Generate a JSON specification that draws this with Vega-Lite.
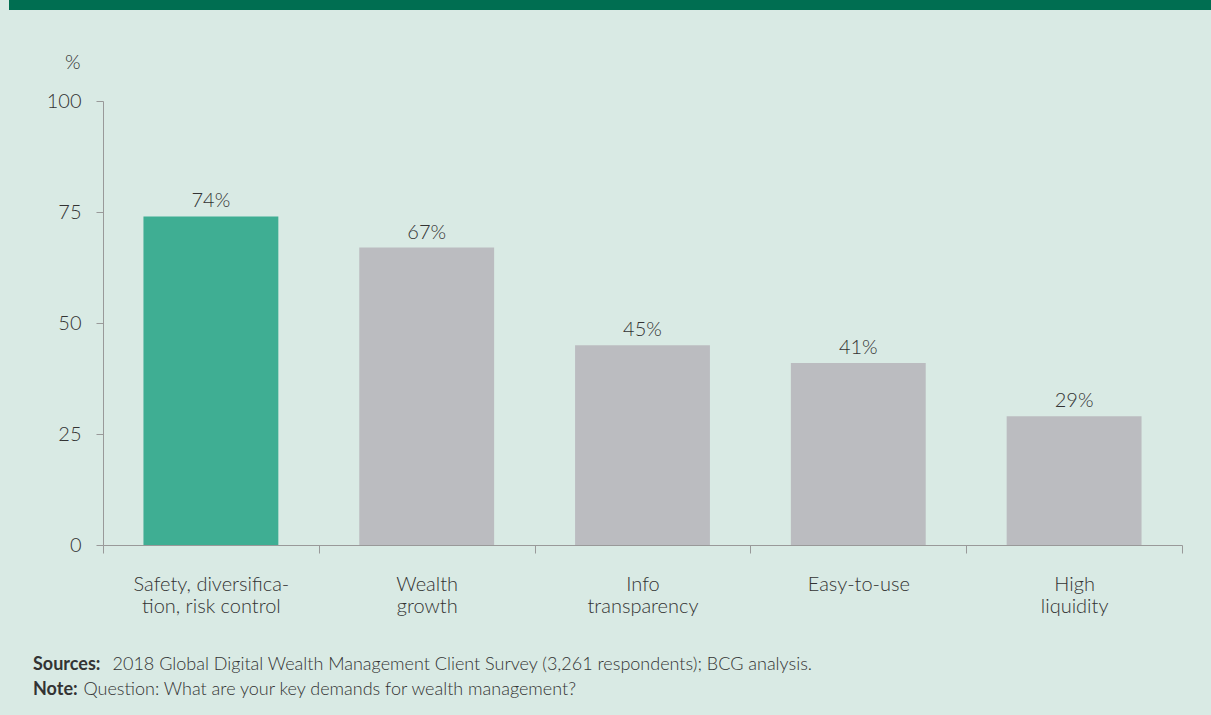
{
  "$schema": "https://vega.github.io/schema/vega-lite/v6.json",
  "width": 1079,
  "height": 444,
  "autosize": {"type": "none"},
  "padding": {"left": 103, "top": 101, "right": 29, "bottom": 170},
  "background": "#d9eae4",
  "config": {"view": {"stroke": null}, "font": "Lato"},
  "title": {
    "text": "Sources:",
    "subtitle": "Note:",
    "orient": "bottom",
    "anchor": "start",
    "frame": "group",
    "dx": -70,
    "offset": -42,
    "baseline": "top",
    "font": "Lato",
    "fontSize": 18,
    "fontWeight": "bold",
    "color": "#333333",
    "subtitleFont": "Lato",
    "subtitleFontSize": 18,
    "subtitleFontWeight": "bold",
    "subtitleColor": "#333333",
    "subtitlePadding": 7
  },
  "data": {
    "values": [
      {"demand": "Safety, diversifica-|tion, risk control", "share": 74, "label": "74%", "group": "top"},
      {"demand": "Wealth|growth", "share": 67, "label": "67%", "group": "other"},
      {"demand": "Info|transparency", "share": 45, "label": "45%", "group": "other"},
      {"demand": "Easy-to-use", "share": 41, "label": "41%", "group": "other"},
      {"demand": "High|liquidity", "share": 29, "label": "29%", "group": "other"}
    ]
  },
  "resolve": {"scale": {"x": "independent"}, "axis": {"x": "independent", "y": "independent"}},
  "layer": [
    {
      "mark": {"type": "rect", "color": "#006e51", "clip": false},
      "encoding": {
        "x": {"datum": -0.0871, "type": "quantitative", "scale": {"domain": [0, 1], "nice": false, "zero": false},
          "axis": {"orient": "top", "labels": false, "ticks": false, "domain": false, "grid": false,
            "title": "Question: What are your key demands for wealth management?",
            "titleX": -20, "titleY": 579, "titleAlign": "left", "titleBaseline": "top", "titleAnchor": "start",
            "titleFont": "Lato", "titleFontSize": 18, "titleFontWeight": 300, "titleColor": "#333333"}},
        "x2": {"datum": 1.0269},
        "y": {"datum": 122.8, "type": "quantitative", "scale": {"domain": [0, 100], "nice": false}, "axis": null},
        "y2": {"datum": 120.5}
      }
    },
    {
      "layer": [
        {
          "mark": {"type": "bar", "width": {"band": 0.625}},
          "encoding": {
            "x": {"field": "demand", "type": "nominal", "sort": null,
              "scale": {"paddingInner": 0, "paddingOuter": 0},
              "axis": {"labelExpr": "split(datum.label, '|')", "labelAngle": 0, "labelFont": "Lato", "labelFontSize": 20,
                "labelFontWeight": 300,
                "labelColor": "#333333", "labelLineHeight": 22, "labelPadding": 21, "labelBaseline": "top",
                "tickBand": "extent", "tickSize": 8, "tickColor": "#999999", "domainColor": "#999999", "zindex": 1,
                "title": "2018 Global Digital Wealth Management Client Survey (3,261 respondents); BCG analysis.",
                "titleX": 9, "titleY": 110, "titleAlign": "left", "titleAnchor": "start", "titleBaseline": "top",
                "titleFont": "Lato", "titleFontSize": 18, "titleFontWeight": 300, "titleColor": "#333333"}},
            "y": {"field": "share", "type": "quantitative", "scale": {"domain": [0, 100], "nice": false},
              "axis": {"values": [0, 25, 50, 75, 100], "grid": false, "tickSize": 7, "tickColor": "#999999",
                "domainColor": "#999999", "labelFont": "Lato", "labelFontSize": 20, "labelFontWeight": 300,
                "labelColor": "#333333",
                "labelPadding": 15, "title": "%", "titleAngle": 0, "titleX": -23, "titleY": -33,
                "titleAlign": "right", "titleBaseline": "alphabetic", "titleFont": "Lato", "titleFontSize": 20,
                "titleFontWeight": 300, "titleColor": "#333333"}},
            "color": {"field": "group", "type": "nominal",
              "scale": {"domain": ["top", "other"], "range": ["#3fae93", "#bbbcc0"]}, "legend": null}
          }
        },
        {
          "mark": {"type": "text", "baseline": "alphabetic", "dy": -9, "font": "Lato", "fontSize": 20, "fontWeight": 300, "color": "#333333"},
          "encoding": {
            "x": {"field": "demand", "type": "nominal", "sort": null},
            "y": {"field": "share", "type": "quantitative"},
            "text": {"field": "label", "type": "nominal"}
          }
        }
      ]
    }
  ]
}
